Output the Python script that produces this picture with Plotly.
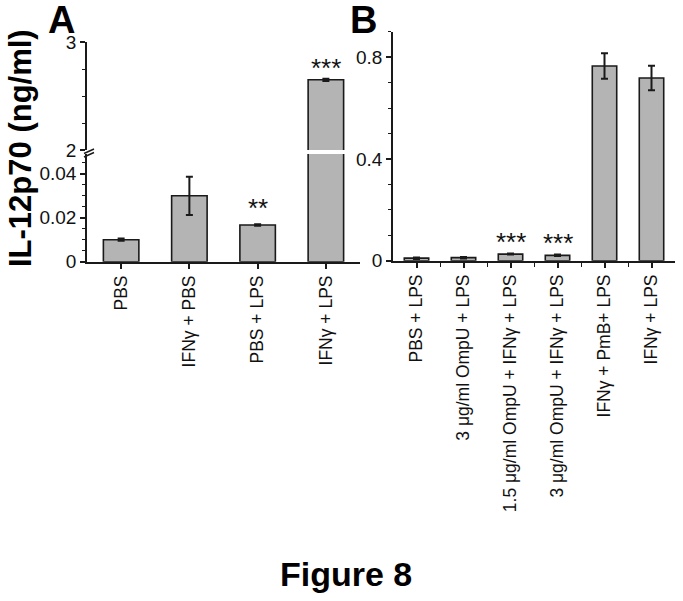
import plotly.graph_objects as go

W, H = 683, 601
FONT = "Arial, Liberation Sans, Helvetica, sans-serif"

# ---- Data: panel A ----
a_labels = ["PBS", "IFNγ + PBS", "PBS + LPS", "IFNγ + LPS"]
a_values = [0.010, 0.030, 0.0167, 2.65]
a_errors = [0.0005, 0.0087, 0.0003, 0.010]
a_stars = ["", "", "**", "***"]

# ---- Data: panel B ----
b_labels = ["PBS + LPS", "3 μg/ml OmpU + LPS", "1.5 μg/ml OmpU + IFNγ + LPS",
            "3 μg/ml OmpU + IFNγ + LPS", "IFNγ + PmB+ LPS", "IFNγ + LPS"]
b_values = [0.010, 0.012, 0.026, 0.021, 0.765, 0.718]
b_errors = [0.003, 0.003, 0.002, 0.003, 0.050, 0.048]
b_stars = ["", "", "***", "***", "", ""]

a_ticks_low = [0, 0.02, 0.04]
a_ticks_low_text = ["0", "0.02", "0.04"]
a_ticks_up = [2, 3]
b_ticks = [0, 0.4, 0.8]
b_ticks_text = ["0", "0.4", "0.8"]


def px_x(x):
    return x / W


def px_y(y):
    return 1 - y / H


BAR_FILL = "#b4b4b4"
LINE = "#1a1a1a"

ax = list(range(len(a_labels)))
bx = list(range(len(b_labels)))

fig = go.Figure()


def bar_trace(x, y, err, xa, ya):
    return go.Bar(
        x=x, y=y, xaxis=xa, yaxis=ya, width=0.52,
        marker=dict(color=BAR_FILL, line=dict(color=LINE, width=1.6)),
        error_y=dict(type="data", array=err, color=LINE, thickness=2, width=3.5),
        showlegend=False, hoverinfo="skip",
    )


fig.add_trace(bar_trace(ax, a_values, a_errors, "x", "y"))
fig.add_trace(bar_trace(ax, a_values, a_errors, "x2", "y2"))
fig.add_trace(bar_trace(bx, b_values, b_errors, "x3", "y3"))

tickfont_y = dict(family=FONT, size=19, color="#111")
tickfont_x = dict(family=FONT, size=17.5, color="#111")

common_line = dict(showline=True, linecolor=LINE, linewidth=1.6, ticks="outside",
                   ticklen=5, tickwidth=1.5, tickcolor=LINE, showgrid=False,
                   zeroline=False, fixedrange=True, automargin=False)

A_X = [px_x(87), px_x(360)]
B_X = [px_x(393), px_x(675)]

fig.update_layout(
    template="none",
    width=W, height=H,
    margin=dict(l=0, r=0, t=0, b=0, pad=0, autoexpand=False),
    paper_bgcolor="white", plot_bgcolor="white",
    xaxis=dict(domain=A_X, anchor="y", range=[-0.5, 3.5], tickmode="array",
               tickvals=ax, ticktext=a_labels, tickangle=-90, tickfont=tickfont_x,
               **common_line),
    yaxis=dict(domain=[px_y(261.7), px_y(154)], anchor="x", range=[0, 0.049],
               tickmode="array", tickvals=a_ticks_low, ticktext=a_ticks_low_text,
               tickfont=tickfont_y,
               minor=dict(dtick=0.005, ticks="outside", ticklen=3, tickcolor=LINE, tickwidth=1.2),
               **common_line),
    xaxis2=dict(domain=A_X, anchor="y2", range=[-0.5, 3.5], showticklabels=False,
                showline=False, ticks="", showgrid=False, zeroline=False,
                fixedrange=True, automargin=False),
    yaxis2=dict(domain=[px_y(150), px_y(42)], anchor="x2", range=[2, 3],
                tickmode="array", tickvals=a_ticks_up, tickfont=tickfont_y,
                minor=dict(dtick=0.25, ticks="outside", ticklen=3, tickcolor=LINE, tickwidth=1.2),
                **common_line),
    xaxis3=dict(domain=B_X, anchor="y3", range=[-0.5, 5.5], tickmode="array",
                tickvals=bx, ticktext=b_labels, tickangle=-90, tickfont=tickfont_x,
                minor=dict(tickvals=[i + 0.5 for i in bx[:-1]], ticks="outside",
                           ticklen=4, tickcolor=LINE, tickwidth=1.2),
                **common_line),
    yaxis3=dict(domain=[px_y(260.7), px_y(31.7)], anchor="x3", range=[0, 0.9],
                tickmode="array", tickvals=b_ticks, ticktext=b_ticks_text,
                tickfont=tickfont_y,
                minor=dict(dtick=0.1, ticks="outside", ticklen=3, tickcolor=LINE, tickwidth=1.2),
                **common_line),
)

annotations = []
# significance stars, panel A
for i, s in enumerate(a_stars):
    if not s:
        continue
    top = a_values[i] + a_errors[i]
    yref = "y2" if a_values[i] >= 2 else "y"
    xref = "x2" if a_values[i] >= 2 else "x"
    annotations.append(dict(x=i, y=top, xref=xref, yref=yref, text=s, showarrow=False,
                            yanchor="bottom", yshift=-6 if yref == "y2" else -1,
                            font=dict(family=FONT, size=26, color="#111")))
for i, s in enumerate(b_stars):
    if not s:
        continue
    top = b_values[i] + b_errors[i]
    annotations.append(dict(x=i, y=top, xref="x3", yref="y3", text=s, showarrow=False,
                            yanchor="bottom", yshift=-5,
                            font=dict(family=FONT, size=26, color="#111")))

# Titles
annotations.append(dict(x=px_x(20), y=px_y(148), xref="paper", yref="paper",
                        text="<b>IL-12p70 (ng/ml)</b>", textangle=-90, showarrow=False,
                        font=dict(family=FONT, size=31, color="#000"),
                        xanchor="center", yanchor="middle"))
annotations.append(dict(x=px_x(61), y=px_y(20), xref="paper", yref="paper",
                        text="<b>A</b>", showarrow=False,
                        font=dict(family=FONT, size=38, color="#000"),
                        xanchor="center", yanchor="middle"))
annotations.append(dict(x=px_x(363), y=px_y(20), xref="paper", yref="paper",
                        text="<b>B</b>", showarrow=False,
                        font=dict(family=FONT, size=38, color="#000"),
                        xanchor="center", yanchor="middle"))
annotations.append(dict(x=px_x(346), y=px_y(574), xref="paper", yref="paper",
                        text="<b>Figure 8</b>", showarrow=False,
                        font=dict(family=FONT, size=34, color="#000"),
                        xanchor="center", yanchor="middle"))
fig.update_layout(annotations=annotations)

# axis break marks on panel A y-axis
shapes = []
for dy in (0, 3.5):
    shapes.append(dict(type="line", xref="paper", yref="paper",
                       x0=px_x(84), y0=px_y(153.5 + dy), x1=px_x(94), y1=px_y(149 + dy),
                       line=dict(color=LINE, width=1.4)))
fig.update_layout(shapes=shapes)

fig.write_html("out.html",
               config={"displayModeBar": False},
               post_script="document.body.style.margin='0';document.body.style.padding='0';")
